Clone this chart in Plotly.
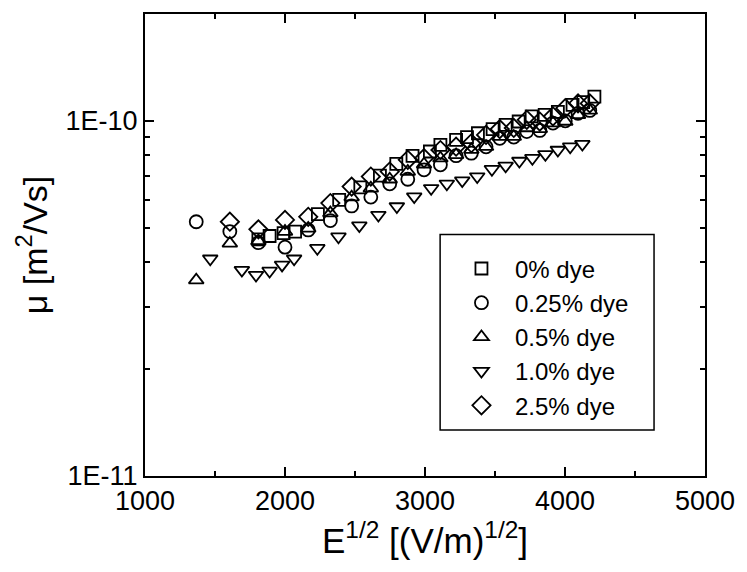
import plotly.graph_objects as go

# E^(1/2) positions [(V/m)^(1/2)] and mobilities in units of 1e-11 m^2/Vs
E_0 = [1810, 1890, 1990, 2072, 2235, 2387, 2538, 2678, 2795, 2911, 3035, 3110, 3222, 3300,
       3378, 3483, 3576, 3669, 3762, 3855, 3949, 4054, 4130, 4210]
mu_0 = [4.64, 4.74, 4.83, 4.88, 5.46, 5.99, 6.50, 7.01, 7.57, 7.97, 8.20, 8.56, 8.84, 9.00,
        9.23, 9.48, 9.75, 9.96, 10.3, 10.4, 10.6, 11.1, 11.3, 11.7]

E_std = [1366, 1606, 1810, 2000, 2166, 2324, 2476, 2613, 2748, 2877, 2993, 3110, 3222, 3331,
         3436, 3534, 3634, 3727, 3820, 3914, 4002, 4093, 4177]
mu_025 = [5.20, 4.88, 4.54, 4.41, 4.93, 5.24, 5.76, 6.10, 6.65, 6.85, 7.28, 7.52, 7.98, 8.11,
          8.45, 8.93, 9.00, 9.33, 9.40, 9.86, 10.0, 10.5, 10.7]
mu_05 = [3.56, 4.52, 4.59, 4.88, 4.98, 5.50, 6.10, 6.46, 6.85, 7.20, 7.55, 7.85, 8.02, 8.30,
         8.46, 9.03, 9.03, 9.55, 9.50, 9.86, 9.96, 10.4, 10.7]

E_25 = [1606, 1810, 2000, 2166, 2324, 2476, 2613, 2748, 2877, 2993, 3110, 3222, 3331,
        3436, 3534, 3634, 3727, 3820, 3914, 4002, 4093, 4177]
mu_25 = [5.20, 4.95, 5.26, 5.37, 5.87, 6.53, 6.97, 7.20, 7.77, 7.85, 8.28, 8.46, 8.65,
         9.13, 9.48, 9.55, 10.07, 9.96, 10.3, 10.86, 11.2, 11.2]

E_10 = [1466, 1692, 1793, 1890, 1979, 2065, 2231, 2382, 2531, 2667, 2799, 2923, 3044, 3156,
        3266, 3373, 3478, 3576, 3674, 3767, 3860, 3949, 4037, 4124]
mu_10 = [4.09, 3.80, 3.68, 3.78, 3.93, 4.09, 4.38, 4.72, 5.07, 5.43, 5.74, 6.12, 6.46, 6.65,
         6.79, 6.97, 7.31, 7.47, 7.71, 7.85, 8.05, 8.28, 8.46, 8.60]

UNIT = 1e-11

series = [
    ("0% dye", E_0, mu_0, "square-open", 12),
    ("0.25% dye", E_std, mu_025, "circle-open", 13),
    ("0.5% dye", E_std, mu_05, "triangle-up-open", 13),
    ("1.0% dye", E_10, mu_10, "triangle-down-open", 13),
    ("2.5% dye", E_25, mu_25, "diamond-open", 14),
]

x_ticks = [1000, 2000, 3000, 4000, 5000]
x_minor = [1500, 2500, 3500, 4500]
y_ticks = [1e-11, 1e-10]
y_ticktext = ["1E-11", "1E-10"]
y_minor = [2e-11, 3e-11, 4e-11, 5e-11, 6e-11, 7e-11, 8e-11, 9e-11, 2e-10]

FONT = "Liberation Sans, Arial, sans-serif"

fig = go.Figure()
for name, xs, ys, sym, sz in series:
    fig.add_trace(go.Scatter(
        x=xs, y=[v * UNIT for v in ys], mode="markers", name=name,
        marker=dict(symbol=sym, size=sz, color="black", line=dict(color="black", width=1.8)),
    ))

# legend frame
fig.add_shape(type="rect", xref="paper", yref="paper",
              x0=0.527, x1=0.909, y0=0.0994, y1=0.5227,
              line=dict(color="black", width=1.5), fillcolor="rgba(0,0,0,0)", layer="below")

fig.update_layout(
    width=747, height=572,
    margin=dict(l=145, r=31, t=13, b=96),
    paper_bgcolor="white", plot_bgcolor="white",
    font=dict(family=FONT, color="black", size=27),
    showlegend=True,
    legend=dict(
        x=0.541, y=0.497, xanchor="left", yanchor="top",
        borderwidth=0, bgcolor="rgba(0,0,0,0)",
        font=dict(family=FONT, size=24, color="black"),
        itemwidth=57, tracegroupgap=0,
    ),
    xaxis=dict(
        range=[1000, 5000], tickmode="array", tickvals=x_ticks,
        ticktext=[str(t) for t in x_ticks],
        ticks="inside", ticklen=9, tickwidth=1.5, tickcolor="black",
        showline=True, linecolor="black", linewidth=2, mirror="ticks",
        showgrid=False, zeroline=False,
        minor=dict(tickmode="array", tickvals=x_minor, ticks="inside", ticklen=5,
                   tickwidth=1.5, tickcolor="black", showgrid=False),
        tickfont=dict(family=FONT, size=27),
        title=dict(text="E<sup>1/2</sup> [(V/m)<sup>1/2</sup>]",
                   font=dict(family=FONT, size=35), standoff=12),
    ),
    yaxis=dict(
        type="log", range=[-11, -9.699], tickmode="array", tickvals=y_ticks,
        ticktext=y_ticktext,
        ticks="inside", ticklen=9, tickwidth=1.5, tickcolor="black",
        showline=True, linecolor="black", linewidth=2, mirror="ticks",
        showgrid=False, zeroline=False,
        minor=dict(tickmode="array", tickvals=y_minor, ticks="inside", ticklen=5,
                   tickwidth=1.5, tickcolor="black", showgrid=False),
        tickfont=dict(family=FONT, size=27),
        title=dict(text="μ [m<sup>2</sup>/Vs]", font=dict(family=FONT, size=34), standoff=8),
    ),
)

fig.write_html("out.html")
